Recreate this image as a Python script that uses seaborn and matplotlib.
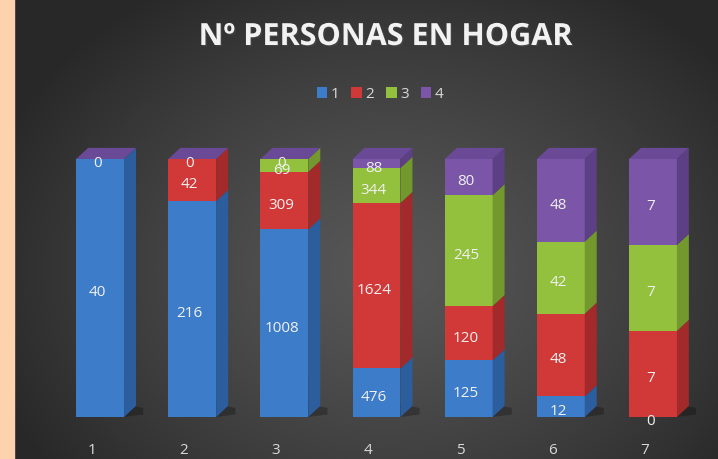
import numpy as np
import pandas as pd
import matplotlib
matplotlib.use("Agg")
import matplotlib.pyplot as plt
import matplotlib.patheffects as pe
from matplotlib.patches import Polygon, Rectangle, Patch
import seaborn as sns

# data (NaN = blank cell in the source sheet, no label)
categories = ["1", "2", "3", "4", "5", "6", "7"]
serie_1 = [40, 216, 1008, 476, 125, 12, 0]
serie_2 = [np.nan, 42, 309, 1624, 120, 48, 7]
serie_3 = [np.nan, np.nan, 69, 344, 245, 42, 7]
serie_4 = [0, 0, 0, 88, 80, 48, 7]
series_names = ["1", "2", "3", "4"]

front = ["#3d7cc9", "#d13838", "#93c13e", "#7a55a8"]
side = ["#2c5d9c", "#a32a2a", "#72982e", "#5c3f84"]
top = ["#5a90d4", "#dd5a5a", "#a8d055", "#6a4996"]

sns.set_theme(style="dark")
plt.rcParams["font.family"] = ["Open Sans", "DejaVu Sans"]

W, H = 718, 460
fig = plt.figure(figsize=(W / 100, H / 100), dpi=100)
fig.patch.set_facecolor("#2a2a2a")

# background: radial gradient + peach strip on the left
bg = fig.add_axes([0, 0, 1, 1], zorder=0)
yy, xx = np.mgrid[0:H, 0:W]
r = np.sqrt(((xx - 390) / 420.0) ** 2 + ((yy - 270) / 330.0) ** 2)
r = np.clip(r, 0, 1)
shade = 0.34 - 0.18 * r ** 1.3
bg.imshow(np.dstack([shade, shade, shade]), extent=[0, W, H, 0], aspect="auto")
bg.add_patch(Rectangle((0, 0), 14, H, color="#fdd3ae"))
bg.set_xlim(0, W)
bg.set_ylim(H, 0)
bg.axis("off")

# main plot area
x0, x1 = 54, 699
ybase, ytop = 418, 160
ymax = 1.15
ax = fig.add_axes([x0 / W, (H - ybase) / H, (x1 - x0) / W,
                   ymax * (ybase - ytop) / H], zorder=1)
ax.patch.set_alpha(0)

vals = pd.DataFrame({"cat": categories, "1": serie_1, "2": serie_2,
                     "3": serie_3, "4": serie_4})
mat = vals[series_names].to_numpy(dtype=float)
totals = np.nansum(mat, axis=1)
frac = np.nan_to_num(mat) / totals[:, None]
cum = np.cumsum(frac, axis=1)
for j, name in enumerate(series_names):
    vals["cum" + name] = cum[:, j]

bw = 0.52
# draw front faces: cumulative, from the top series down
for j in range(3, -1, -1):
    sns.barplot(data=vals, x="cat", y="cum" + series_names[j], color=front[j],
                width=bw, saturation=1, linewidth=0, ax=ax, zorder=2)

dx, dy = 0.13, 0.043
for i in range(len(categories)):
    bottoms = np.concatenate([[0], cum[i, :-1]])
    # floor shadow
    ax.add_patch(Polygon([(i + bw / 2, 0), (i + bw / 2 + dx * 1.6, 0.01),
                          (i + bw / 2 + dx * 1.6, 0.035), (i + bw / 2, 0.05)],
                         closed=True, color="black", alpha=0.25, lw=0, zorder=1))
    for j in range(4):
        b, t = bottoms[j], cum[i, j]
        if t - b <= 0:
            continue
        ax.add_patch(Polygon([(i + bw / 2, b), (i + bw / 2 + dx, b + dy),
                              (i + bw / 2 + dx, t + dy), (i + bw / 2, t)],
                             closed=True, color=side[j], lw=0, zorder=3))
    last = max(j for j in range(4) if not np.isnan(mat[i, j]))
    ax.add_patch(Polygon([(i - bw / 2, 1), (i - bw / 2 + dx, 1 + dy),
                          (i + bw / 2 + dx, 1 + dy), (i + bw / 2, 1)],
                         closed=True, color=top[last], lw=0, zorder=3))
    # value labels
    for j in range(4):
        v = mat[i, j]
        if np.isnan(v):
            continue
        yc = (bottoms[j] + cum[i, j]) / 2 - 0.015
        ax.text(i - 0.03, yc, f"{int(v)}", ha="center", va="center",
                color="#f0f0f0", fontsize=11, zorder=5)

ax.set_xlim(-0.5, 6.5)
ax.set_ylim(0, ymax)
ax.set_xticks(np.arange(len(categories)) - 0.09, categories)
ax.tick_params(axis="x", length=0, pad=18, labelsize=11, labelcolor="#d9d9d9")
ax.set_yticks([])
ax.set_xlabel("")
ax.set_ylabel("")
sns.despine(ax=ax, left=True, bottom=True)

# title and legend
fig.text(385 / W, 1 - 38 / H, "Nº PERSONAS EN HOGAR", ha="center", va="center",
         color="#f2f2f2", fontsize=22, fontweight="bold",
         path_effects=[pe.withSimplePatchShadow(offset=(1, -1), alpha=0.6)])
handles = [Patch(facecolor=front[j], edgecolor="none") for j in range(4)]
fig.legend(handles, series_names, loc="center", bbox_to_anchor=(380 / W, 1 - 95 / H),
           ncol=4, frameon=False, handlelength=0.7, handleheight=0.7,
           handletextpad=0.2, columnspacing=0.8, fontsize=11, labelcolor="#d9d9d9")

fig.savefig("out.png", dpi=100, facecolor=fig.get_facecolor())
